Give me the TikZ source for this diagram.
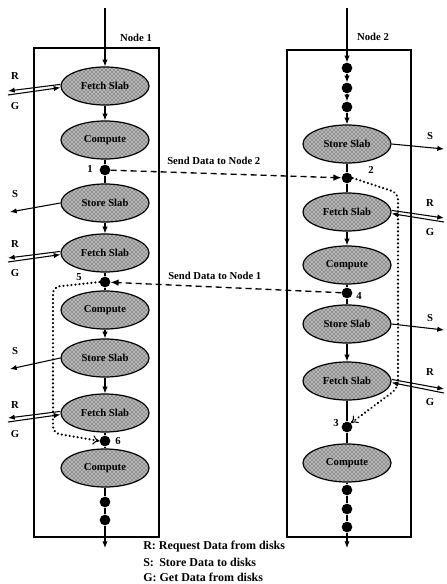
\documentclass[tikz,border=0pt]{standalone}
\usepackage{fontspec}
\setmainfont{Liberation Serif}
\usetikzlibrary{shapes.geometric,patterns,arrows.meta}
\begin{document}
\begin{tikzpicture}[x=0.75pt,y=-0.75pt,
  every node/.style={font=\bfseries\fontsize{8}{9}\selectfont},
  slab/.style={ellipse,draw,line width=0.9pt,minimum width=66pt,minimum height=28.5pt,inner sep=0pt,
    preaction={fill=gray!55},pattern=crosshatch dots,pattern color=black},
  dotn/.style={circle,fill=black,inner sep=0pt,minimum size=8pt},
  flow/.style={-{Latex[length=5pt,width=4pt]},line width=0.8pt},
  plain/.style={line width=0.8pt},
  msg/.style={dash pattern=on 4.5pt off 3pt,line width=1pt,-{Latex[length=6pt,width=5pt]}},
  dep/.style={line cap=round,dash pattern=on 0.01pt off 3pt,line width=1.8pt,rounded corners=5pt,-{To[length=5pt,width=7pt,line width=0.8pt]}},
  lbl/.style={inner sep=0pt},
  frame/.style={draw,line width=1pt,inner sep=0pt},
  legend/.style={inner sep=0pt,anchor=west,font=\bfseries\fontsize{9}{10}\selectfont}
]
\useasboundingbox (0,0) rectangle (446,584);

% frames
\node[frame,minimum width=93.75pt,minimum height=366.75pt] (box1) at (96.5,292.5) {};
\node[frame,minimum width=93pt,minimum height=365.25pt] (box2) at (349,293.5) {};
\node[lbl] (nl1) at (136,38) {Node 1};
\node[lbl] (nl2) at (373,37) {Node 2};

% column 1
\coordinate (top1) at (105,8);
\node[slab] (f1a) at (105,86) {Fetch Slab};
\node[slab] (c1a) at (105,140) {Compute};
\node[dotn] (d1) at (105,170) {};
\node[slab] (s1a) at (105,203) {Store Slab};
\node[slab] (f1b) at (105,253) {Fetch Slab};
\node[dotn] (d5) at (105,282) {};
\node[slab] (c1b) at (105,310) {Compute};
\node[slab] (s1b) at (105,358) {Store Slab};
\node[slab] (f1c) at (105,413) {Fetch Slab};
\node[dotn] (d6) at (105,441) {};
\node[slab] (c1c) at (105,468) {Compute};
\node[dotn] (e1a) at (105,502) {};
\node[dotn] (e1b) at (105,520) {};
\coordinate (bot1) at (105,548);

\draw[flow] (top1) -- (f1a);
\draw[flow] (f1a) -- (c1a);
\draw[plain] (c1a) -- (d1);
\draw[plain] (d1) -- (s1a);
\draw[flow] (s1a) -- (f1b);
\draw[plain] (f1b) -- (d5);
\draw[plain] (d5) -- (c1b);
\draw[flow] (c1b) -- (s1b);
\draw[flow] (s1b) -- (f1c);
\draw[plain] (f1c) -- (d6);
\draw[plain] (d6) -- (c1c);
\draw[plain] (c1c) -- (e1a);
\draw[plain] (e1a) -- (e1b);
\draw[flow] (e1b) -- (bot1);

% column 2
\coordinate (top2) at (347,8);
\node[dotn] (t2a) at (347,68) {};
\node[dotn] (t2b) at (347,88) {};
\node[dotn] (t2c) at (347,107) {};
\node[slab] (s2a) at (347,144) {Store Slab};
\node[dotn] (d2) at (347,178) {};
\node[slab] (f2a) at (347,212) {Fetch Slab};
\node[slab] (c2a) at (347,265) {Compute};
\node[dotn] (d4) at (347,293) {};
\node[slab] (s2b) at (347,324) {Store Slab};
\node[slab] (f2b) at (347,381) {Fetch Slab};
\node[dotn] (d3) at (347,427) {};
\node[slab] (c2b) at (347,463) {Compute};
\node[dotn] (e2a) at (347,490) {};
\node[dotn] (e2b) at (347,509) {};
\node[dotn] (e2c) at (347,527) {};
\coordinate (bot2) at (347,548);

\draw[flow] (top2) -- (t2a);
\draw[flow] (t2a) -- (t2b);
\draw[flow] (t2b) -- (t2c);
\draw[flow] (t2c) -- (s2a);
\draw[plain] (s2a) -- (d2);
\draw[plain] (d2) -- (f2a);
\draw[flow] (f2a) -- (c2a);
\draw[plain] (c2a) -- (d4);
\draw[plain] (d4) -- (s2b);
\draw[flow] (s2b) -- (f2b);
\draw[plain] (f2b) -- (d3);
\draw[plain] (d3) -- (c2b);
\draw[plain] (c2b) -- (e2a);
\draw[plain] (e2a) -- (e2b);
\draw[plain] (e2b) -- (e2c);
\draw[flow] (e2c) -- (bot2);

% number labels
\node[lbl] (n1) at (90,169) {1};
\node[lbl] (n2) at (371,170) {2};
\node[lbl] (n5) at (79,277) {5};
\node[lbl] (n4) at (359,296) {4};
\node[lbl] (n3) at (336,423) {3};
\node[lbl] (n6) at (118,441) {6};

% messages between nodes
\draw[msg] (d1) -- (d2);
\draw[msg] (d4) -- (d5);
\node[lbl,anchor=west] (m12) at (167,161) {Send Data to Node 2};
\node[lbl,anchor=west] (m21) at (168,276) {Send Data to Node 1};

% dependencies
\coordinate (w1) at (53,287);
\coordinate (w2) at (53,433);
\draw[dep] (d5.west) -- (w1) -- (w2) -- (d6.west);
\coordinate (v1) at (398,193);
\coordinate (v2) at (398,388);
\draw[dep] (d2.east) -- (v1) -- (v2) -- (d3.north east);

% disk traffic, node 1
\coordinate (r1a) at (8,91);  \coordinate (g1a) at (8,95);
\draw[flow] ([yshift=1.2pt]f1a.west) -- (r1a);
\draw[flow] (g1a) -- ([yshift=-1.2pt]f1a.west);
\node[lbl] (lr1a) at (15,76) {R};
\node[lbl] (lg1a) at (15,106) {G};

\coordinate (r1b) at (8,258);  \coordinate (g1b) at (8,262);
\draw[flow] ([yshift=1.2pt]f1b.west) -- (r1b);
\draw[flow] (g1b) -- ([yshift=-1.2pt]f1b.west);
\node[lbl] (lr1b) at (15,244) {R};
\node[lbl] (lg1b) at (15,273) {G};

\coordinate (r1c) at (8,418);  \coordinate (g1c) at (8,422);
\draw[flow] ([yshift=1.2pt]f1c.west) -- (r1c);
\draw[flow] (g1c) -- ([yshift=-1.2pt]f1c.west);
\node[lbl] (lr1c) at (15,405) {R};
\node[lbl] (lg1c) at (15,434) {G};

\coordinate (so1a) at (10,212);
\draw[flow] (s1a.west) -- (so1a);
\node[lbl] (ls1a) at (15,194) {S};
\coordinate (so1b) at (10,369);
\draw[flow] (s1b.west) -- (so1b);
\node[lbl] (ls1b) at (15,351) {S};

% disk traffic, node 2
\coordinate (r2a) at (444,218);  \coordinate (g2a) at (444,222);
\draw[flow] ([yshift=1.2pt]f2a.east) -- (r2a);
\draw[flow] (g2a) -- ([yshift=-1.2pt]f2a.east);
\node[lbl] (lr2a) at (430,203) {R};
\node[lbl] (lg2a) at (430,232) {G};

\coordinate (r2b) at (444,389);  \coordinate (g2b) at (444,393);
\draw[flow] ([yshift=1.2pt]f2b.east) -- (r2b);
\draw[flow] (g2b) -- ([yshift=-1.2pt]f2b.east);
\node[lbl] (lr2b) at (430,372) {R};
\node[lbl] (lg2b) at (430,402) {G};

\coordinate (so2a) at (444,149);
\draw[flow] (s2a.east) -- (so2a);
\node[lbl] (ls2a) at (430,136) {S};
\coordinate (so2b) at (444,330);
\draw[flow] (s2b.east) -- (so2b);
\node[lbl] (ls2b) at (430,318) {S};

% legend
\node[legend] (lgR) at (143,547) {R: Request Data from disks};
\node[legend] (lgS) at (143,562) {S:\hspace{0.45em}Store Data to disks};
\node[legend] (lgG) at (143,577) {G: Get Data from disks};
\end{tikzpicture}
\end{document}
